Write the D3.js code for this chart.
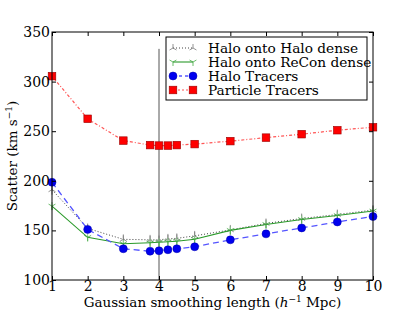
<!DOCTYPE html>
<html>
<head>
<meta charset="utf-8">
<script src="https://cdn.jsdelivr.net/npm/d3@7"></script>
<style>
  body { margin: 0; background: #fff; }
  svg { font-family: "DejaVu Serif", serif; }
</style>
</head>
<body>
<div id="chart"></div>
<script>
const xs = [1, 2, 3, 3.75, 4, 4.25, 4.5, 5, 6, 7, 8, 9, 10];

const haloHaloDense   = [191, 152, 141, 140.5, 140.5, 141.5, 142, 144.5, 150.5, 157, 162, 166, 170.5];
const haloHaloErr     = [5, 5, 5, 5, 5, 5, 5, 5, 5, 5, 5, 5, 5];
const haloReconDense  = [174.5, 143, 136.5, 137.5, 138, 138.5, 139, 141, 150, 156, 161, 165, 169.5];
const haloReconErr    = [4, 4, 4, 4, 4, 4, 4, 4, 4, 4, 4, 4, 4];
const haloTracers     = [198.5, 151, 131.5, 129, 129.5, 130.5, 131.5, 133.5, 140.5, 146.5, 152.5, 158.5, 164];
const particleTracers = [305.5, 262.5, 240.5, 236, 235.5, 235.5, 236, 237, 240, 243.5, 247, 251, 254];

const xTicks = [1, 2, 3, 4, 5, 6, 7, 8, 9, 10];
const yTicks = [100, 150, 200, 250, 300, 350];
const markX = 4;

const W = 415, H = 312;
const margin = { top: 32, right: 42, bottom: 32, left: 52 };
const width  = W - margin.left - margin.right;
const height = H - margin.top - margin.bottom;

const svg = d3.select("#chart").append("svg")
  .attr("width", W).attr("height", H);
const g = svg.append("g")
  .attr("transform", `translate(${margin.left},${margin.top})`);

const x = d3.scaleLinear().domain([1, 10]).range([0, width]);
const y = d3.scaleLinear().domain([100, 350]).range([height, 0]);

// vertical marker line
g.append("line")
  .attr("x1", x(markX)).attr("x2", x(markX))
  .attr("y1", y(333)).attr("y2", y(100))
  .attr("stroke", "#555").attr("stroke-width", 1);

const line = d3.line().x((d, i) => x(xs[i])).y(d => y(d));

// tri markers
function tri(sel, up, color, size) {
  sel.each(function(d, i) {
    const cx = x(xs[i]), cy = y(d);
    const gg = d3.select(this);
    const ang = up ? [-90, 30, 150] : [90, -30, 210];
    ang.forEach(a => {
      const r = a * Math.PI / 180;
      gg.append("line")
        .attr("x1", cx).attr("y1", cy)
        .attr("x2", cx + size * Math.cos(r)).attr("y2", cy + size * Math.sin(r))
        .attr("stroke", color).attr("stroke-width", 0.8);
    });
  });
}

// Halo onto Halo dense: error bars + dotted
g.selectAll(".errK").data(haloHaloDense).enter().append("line")
  .attr("x1", (d, i) => x(xs[i])).attr("x2", (d, i) => x(xs[i]))
  .attr("y1", (d, i) => y(d - haloHaloErr[i])).attr("y2", (d, i) => y(d + haloHaloErr[i]))
  .attr("stroke", "#999").attr("stroke-width", 1);
g.append("path").datum(haloHaloDense)
  .attr("d", line).attr("fill", "none")
  .attr("stroke", "#444").attr("stroke-width", 1).attr("stroke-dasharray", "1 2");
g.selectAll(".triK").data(haloHaloDense).enter().append("g").call(tri, true, "#777", 4);

// Halo onto ReCon dense
g.selectAll(".errG").data(haloReconDense).enter().append("line")
  .attr("x1", (d, i) => x(xs[i])).attr("x2", (d, i) => x(xs[i]))
  .attr("y1", (d, i) => y(d - haloReconErr[i])).attr("y2", (d, i) => y(d + haloReconErr[i]))
  .attr("stroke", "#8c8").attr("stroke-width", 1);
g.append("path").datum(haloReconDense)
  .attr("d", line).attr("fill", "none")
  .attr("stroke", "#2a9a2a").attr("stroke-width", 1.1);
g.selectAll(".triG").data(haloReconDense).enter().append("g").call(tri, false, "#4a4", 4);

// Halo Tracers
g.append("path").datum(haloTracers)
  .attr("d", line).attr("fill", "none")
  .attr("stroke", "#5555ff").attr("stroke-width", 1.3).attr("stroke-dasharray", "6 4");
g.selectAll(".dotB").data(haloTracers).enter().append("circle")
  .attr("cx", (d, i) => x(xs[i])).attr("cy", d => y(d))
  .attr("r", 4).attr("fill", "#0000ee").attr("stroke", "#0000aa").attr("stroke-width", 0.5);

// Particle Tracers
g.append("path").datum(particleTracers)
  .attr("d", line).attr("fill", "none")
  .attr("stroke", "#ff5555").attr("stroke-width", 1.2).attr("stroke-dasharray", "3 2 1 2");
g.selectAll(".sqR").data(particleTracers).enter().append("rect")
  .attr("x", (d, i) => x(xs[i]) - 3.8).attr("y", d => y(d) - 3.8)
  .attr("width", 7.6).attr("height", 7.6)
  .attr("fill", "#ff0000").attr("stroke", "#990000").attr("stroke-width", 0.6);

// frame
g.append("rect").attr("width", width).attr("height", height)
  .attr("fill", "none").attr("stroke", "#000").attr("stroke-width", 1);

// axes (ticks inward)
const tickLen = 4;
const xb = g.append("g").attr("transform", `translate(0,${height})`)
  .call(d3.axisBottom(x).tickValues(xTicks).tickSize(-tickLen).tickPadding(3).tickFormat(d3.format("d")));
const xt = g.append("g")
  .call(d3.axisTop(x).tickValues(xTicks).tickSize(-tickLen).tickFormat(""));
const yl = g.append("g")
  .call(d3.axisLeft(y).tickValues(yTicks).tickSize(-tickLen).tickPadding(2).tickFormat(d3.format("d")));
const yr = g.append("g").attr("transform", `translate(${width},0)`)
  .call(d3.axisRight(y).tickValues(yTicks).tickSize(-tickLen).tickFormat(""));
[xb, xt, yl, yr].forEach(a => {
  a.select(".domain").remove();
  a.selectAll("text").attr("font-size", 14).attr("font-family", "DejaVu Serif").attr("fill", "#000");
  a.selectAll(".tick line").attr("stroke", "#000");
});
xb.selectAll("text").attr("dy", "0.6em");

// axis labels
svg.append("text")
  .attr("x", margin.left + width / 2).attr("y", 307)
  .attr("text-anchor", "middle").attr("font-size", 13.5)
  .call(t => {
    t.append("tspan").text("Gaussian smoothing length (");
    t.append("tspan").attr("font-style", "italic").text("h");
    t.append("tspan").attr("font-size", 9).attr("dy", -5).text("−1");
    t.append("tspan").attr("dy", 5).text(" Mpc)");
  });

svg.append("text")
  .attr("transform", `translate(17,${margin.top + height / 2}) rotate(-90)`)
  .attr("text-anchor", "middle").attr("font-size", 13.5)
  .call(t => {
    t.append("tspan").text("Scatter (km s");
    t.append("tspan").attr("font-size", 9).attr("dy", -5).text("−1");
    t.append("tspan").attr("dy", 5).text(")");
  });

// legend
const legendItems = [
  { label: "Halo onto Halo dense", kind: "k" },
  { label: "Halo onto ReCon dense", kind: "g" },
  { label: "Halo Tracers", kind: "b" },
  { label: "Particle Tracers", kind: "r" }
];
const lg = svg.append("g").attr("transform", "translate(166,37)");
lg.append("rect").attr("width", 201).attr("height", 63)
  .attr("fill", "#fff").attr("stroke", "#000").attr("stroke-width", 1);
legendItems.forEach((it, i) => {
  const cy = 11 + i * 14;
  const row = lg.append("g");
  const x1 = 7, x2 = 27;
  if (it.kind === "k") {
    row.append("line").attr("x1", x1).attr("x2", x2).attr("y1", cy).attr("y2", cy)
      .attr("stroke", "#444").attr("stroke-dasharray", "1 2");
    [x1, x2].forEach(px => [-90, 30, 150].forEach(a => {
      const r = a * Math.PI / 180;
      row.append("line").attr("x1", px).attr("y1", cy)
        .attr("x2", px + 4 * Math.cos(r)).attr("y2", cy + 4 * Math.sin(r))
        .attr("stroke", "#777").attr("stroke-width", 0.8);
    }));
  } else if (it.kind === "g") {
    row.append("line").attr("x1", x1).attr("x2", x2).attr("y1", cy).attr("y2", cy)
      .attr("stroke", "#2a9a2a").attr("stroke-width", 1.1);
    [x1, x2].forEach(px => [90, -30, 210].forEach(a => {
      const r = a * Math.PI / 180;
      row.append("line").attr("x1", px).attr("y1", cy)
        .attr("x2", px + 4 * Math.cos(r)).attr("y2", cy + 4 * Math.sin(r))
        .attr("stroke", "#4a4").attr("stroke-width", 0.8);
    }));
  } else if (it.kind === "b") {
    row.append("line").attr("x1", x1).attr("x2", x2).attr("y1", cy).attr("y2", cy)
      .attr("stroke", "#5555ff").attr("stroke-width", 1.3).attr("stroke-dasharray", "3 3").attr("stroke-dashoffset", -6);
    [x1, x2].forEach(px => row.append("circle").attr("cx", px).attr("cy", cy).attr("r", 4)
      .attr("fill", "#0000ee").attr("stroke", "#0000aa").attr("stroke-width", 0.5));
  } else {
    row.append("line").attr("x1", x1).attr("x2", x2).attr("y1", cy).attr("y2", cy)
      .attr("stroke", "#ff5555").attr("stroke-width", 1.2).attr("stroke-dasharray", "2 2").attr("stroke-dashoffset", -5);
    [x1, x2].forEach(px => row.append("rect").attr("x", px - 3.8).attr("y", cy - 3.8)
      .attr("width", 7.6).attr("height", 7.6)
      .attr("fill", "#ff0000").attr("stroke", "#990000").attr("stroke-width", 0.6));
  }
  row.append("text").attr("x", 42).attr("y", cy + 4.5)
    .attr("font-size", 13.7).text(it.label);
});
</script>
</body>
</html>
